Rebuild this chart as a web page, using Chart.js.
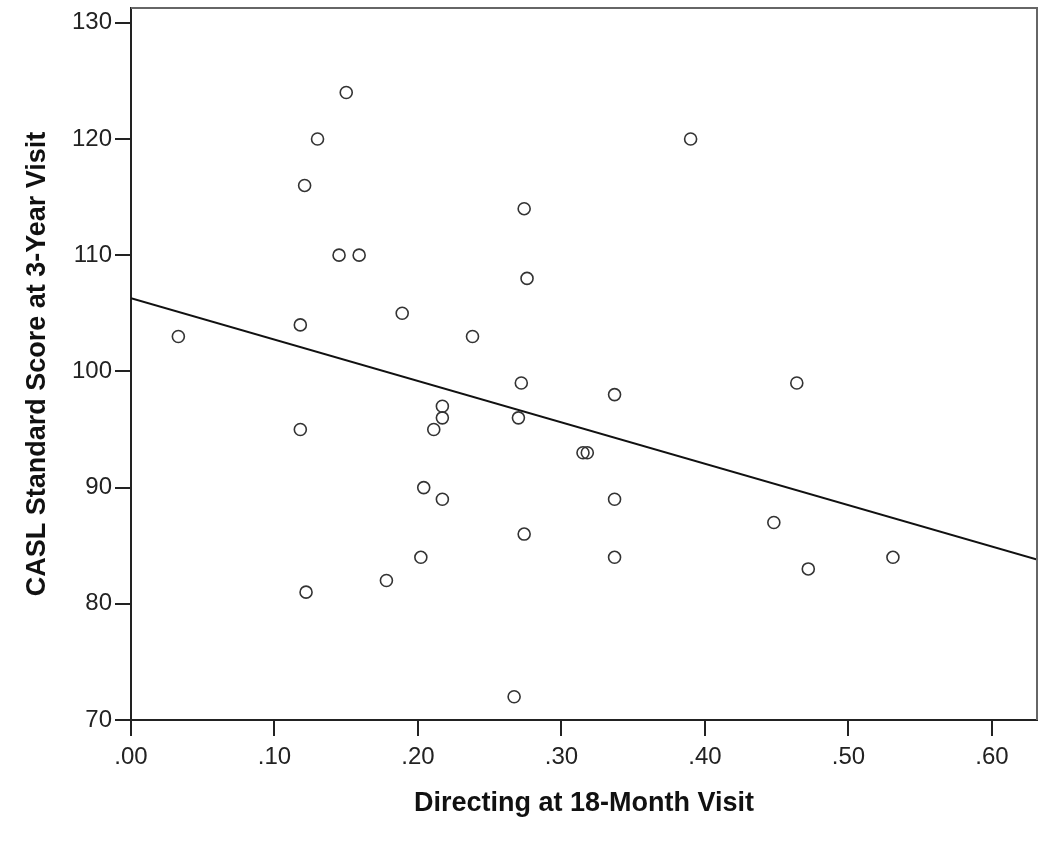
<!DOCTYPE html>
<html lang="en">
<head>
    <meta charset="UTF-8">
    <title>CASL vs Directing</title>
    <style>
        body { margin: 0; background: #fff; }
        #wrap { width: 1050px; height: 841px; }
    </style>
</head>
<body>

<script src="https://cdn.jsdelivr.net/npm/chart.js@4/dist/chart.umd.min.js"></script>
<div id="wrap"><canvas id="scatter-chart"></canvas></div>

<script>
    // values
    const directing = [0.150, 0.130, 0.121, 0.145, 0.159, 0.189, 0.118, 0.033,
        0.390, 0.274, 0.276, 0.238, 0.118, 0.211, 0.204, 0.202, 0.178, 0.122,
        0.217, 0.217, 0.272, 0.270, 0.337, 0.315, 0.318, 0.217, 0.337, 0.274,
        0.337, 0.267, 0.464, 0.448, 0.472, 0.531];
    const caslScore = [124, 120, 116, 110, 110, 105, 104, 103,
        120, 114, 108, 103, 95, 95, 90, 84, 82, 81,
        97, 96, 99, 96, 98, 93, 93, 89, 89, 86,
        84, 72, 99, 87, 83, 84];

    // fit line ends (at the left and right edges of the plot)
    const fitX = [0, 0.6314];
    const fitY = [106.3, 83.8];

    const xTicks = [0, 0.1, 0.2, 0.3, 0.4, 0.5, 0.6];
    const yTicks = [70, 80, 90, 100, 110, 120, 130];

    const points = directing.map((x, i) => ({x: x, y: caslScore[i]}));
    const fitLine = fitX.map((x, i) => ({x: x, y: fitY[i]}));

    // top and right edges of the frame
    const framePlugin = {
        id: 'frame',
        afterDraw(chart) {
            const a = chart.chartArea;
            const ctx = chart.ctx;
            ctx.save();
            ctx.strokeStyle = '#666';
            ctx.lineWidth = 2;
            ctx.beginPath();
            ctx.moveTo(a.left, a.top);
            ctx.lineTo(a.right, a.top);
            ctx.lineTo(a.right, a.bottom);
            ctx.stroke();
            ctx.restore();
        }
    };

    const bgPlugin = {
        id: 'bg',
        beforeDraw(chart) {
            const ctx = chart.ctx;
            ctx.save();
            ctx.fillStyle = '#fff';
            ctx.fillRect(0, 0, chart.width, chart.height);
            ctx.restore();
        }
    };

    const tickFont = {family: 'Liberation Sans, Arial, sans-serif', size: 24};
    const titleFont = {family: 'Liberation Sans, Arial, sans-serif', size: 27, weight: 'bold'};

    new Chart(document.getElementById('scatter-chart'), {
        type: 'scatter',
        data: {
            datasets: [{
                data: points,
                pointStyle: 'circle',
                pointRadius: 6,
                pointBorderWidth: 1.6,
                pointBorderColor: '#333',
                pointBackgroundColor: 'rgba(0,0,0,0)'
            }, {
                type: 'line',
                data: fitLine,
                borderColor: '#111',
                borderWidth: 2,
                pointRadius: 0,
                fill: false
            }]
        },
        options: {
            responsive: true,
            maintainAspectRatio: false,
            animation: false,
            events: [],
            layout: {padding: {top: 8, right: 13, bottom: 0, left: 0}},
            plugins: {legend: {display: false}, tooltip: {enabled: false}},
            scales: {
                x: {
                    type: 'linear',
                    min: 0,
                    max: 0.6314,
                    afterBuildTicks: s => { s.ticks = xTicks.map(v => ({value: v})); },
                    afterFit: s => { s.height = 121; },
                    grid: {drawOnChartArea: false, tickLength: 16, color: '#222', lineWidth: 2},
                    border: {color: '#222', width: 2},
                    ticks: {
                        font: tickFont,
                        color: '#222',
                        padding: 7,
                        maxRotation: 0,
                        callback: v => v.toFixed(2).replace(/^0/, '')
                    },
                    title: {
                        display: true,
                        text: 'Directing at 18-Month Visit',
                        font: titleFont,
                        color: '#111',
                        padding: {top: 0, bottom: 21}
                    }
                },
                y: {
                    type: 'linear',
                    min: 70,
                    max: 131.27,
                    afterBuildTicks: s => { s.ticks = yTicks.map(v => ({value: v})); },
                    afterFit: s => { s.width = 131; s.paddingTop = 0; s.paddingBottom = 0; },
                    grid: {drawOnChartArea: false, tickLength: 16, color: '#222', lineWidth: 2},
                    border: {color: '#222', width: 2},
                    ticks: {
                        font: tickFont,
                        color: '#222',
                        padding: 3
                    },
                    title: {
                        display: true,
                        text: 'CASL Standard Score at 3-Year Visit',
                        font: titleFont,
                        color: '#111',
                        padding: {top: 21, bottom: 0}
                    }
                }
            }
        },
        plugins: [bgPlugin, framePlugin]
    });
</script>

</body>
</html>
